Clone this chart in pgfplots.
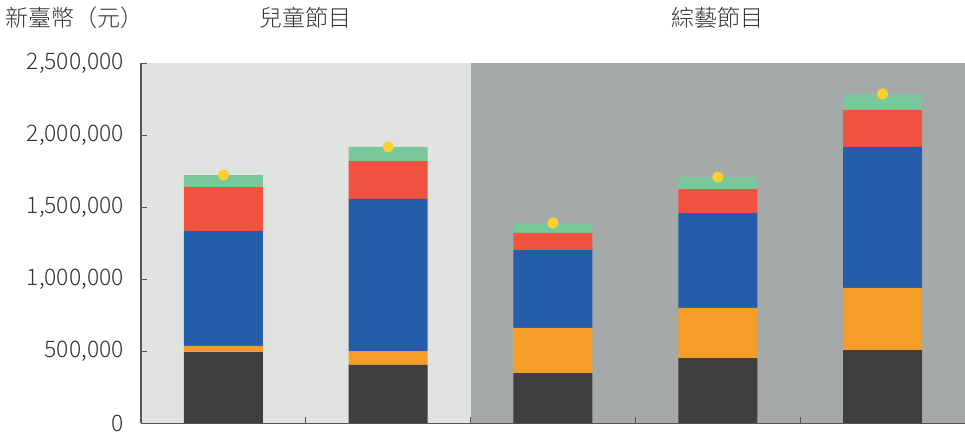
\documentclass[border=0pt]{standalone}
\usepackage{fontspec}
\setmainfont{Noto Sans CJK TC}[UprightFont={* Light}]
\usepackage{pgfplots}
\pgfplotsset{compat=1.18}
\definecolor{cDark}{HTML}{3F3F3F}
\definecolor{cOrange}{HTML}{F69C28}
\definecolor{cBlue}{HTML}{255DAA}
\definecolor{cRed}{HTML}{F15340}
\definecolor{cGreen}{HTML}{79C79A}
\definecolor{cDot}{HTML}{FDD02F}
\definecolor{bgL}{HTML}{E1E3E0}
\definecolor{bgR}{HTML}{A6A9AA}
\definecolor{txt}{HTML}{333333}
\definecolor{axc}{HTML}{555555}
\begin{document}
\begin{tikzpicture}
\pgfplotsset{
  common/.style={
    scale only axis, width=412pt, height=180pt,
    at={(70.5pt,5.85pt)}, anchor=south west,
    xmin=-0.5, xmax=4.5, ymin=0, ymax=2500000,
  }
}
\begin{axis}[common, hide axis]
\fill[bgL] (axis cs:-0.5,0) rectangle (axis cs:1.5,2500000);
\fill[bgR] (axis cs:1.5,0) rectangle (axis cs:4.5,2500000);
\end{axis}
\begin{axis}[common,
  ybar stacked, bar width=39.5pt,
  axis on top,
  axis x line*=bottom, axis y line*=left,
  axis line style={axc, line width=0.8pt},
  tick style={axc, line width=0.6pt},
  tick align=inside, major tick length=3pt,
  xtick={0.5,1.5,2.5,3.5}, xticklabels={,,,},
  ytick={0,500000,1000000,1500000,2000000,2500000},
  scaled y ticks=false,
  /pgf/number format/fixed,
  /pgf/number format/1000 sep={,},
  /pgf/number format/assume math mode=true,
  yticklabel style={font=\fontsize{11.4pt}{13pt}\selectfont, text=txt, anchor=east, inner sep=0pt, xshift=-8.5pt},
]
\addplot[fill=cDark, draw=none] coordinates {(0,495000) (1,405000) (2,349000) (3,453000) (4,509000)};
\addplot[fill=cOrange, draw=none] coordinates {(0,42000) (1,97000) (2,313000) (3,348000) (4,431000)};
\addplot[fill=cBlue, draw=none] coordinates {(0,798000) (1,1056000) (2,541000) (3,659000) (4,979000)};
\addplot[fill=cRed, draw=none] coordinates {(0,306000) (1,263000) (2,119000) (3,167000) (4,257000)};
\addplot[fill=cGreen, draw=none] coordinates {(0,83000) (1,98000) (2,69000) (3,83000) (4,111000)};
\end{axis}
\begin{axis}[common, hide axis]
\addplot[only marks, mark=*, mark size=2.6pt, color=cDot] coordinates {(0,1724000) (1,1919000) (2,1391000) (3,1710000) (4,2287000)};
\end{axis}
\node[anchor=west, inner sep=0pt, text=txt, font=\fontsize{11.5pt}{13pt}\selectfont] at (2.5pt,208.75pt) {新臺幣（元）};
\node[inner sep=0pt, text=txt, font=\fontsize{11.5pt}{13pt}\selectfont] at (152.9pt,208.75pt) {兒童節目};
\node[inner sep=0pt, text=txt, font=\fontsize{11.5pt}{13pt}\selectfont] at (358.9pt,208.75pt) {綜藝節目};
\pgfresetboundingbox
\useasboundingbox (0,0) rectangle (482.5pt,217.5pt);
\end{tikzpicture}
\end{document}
